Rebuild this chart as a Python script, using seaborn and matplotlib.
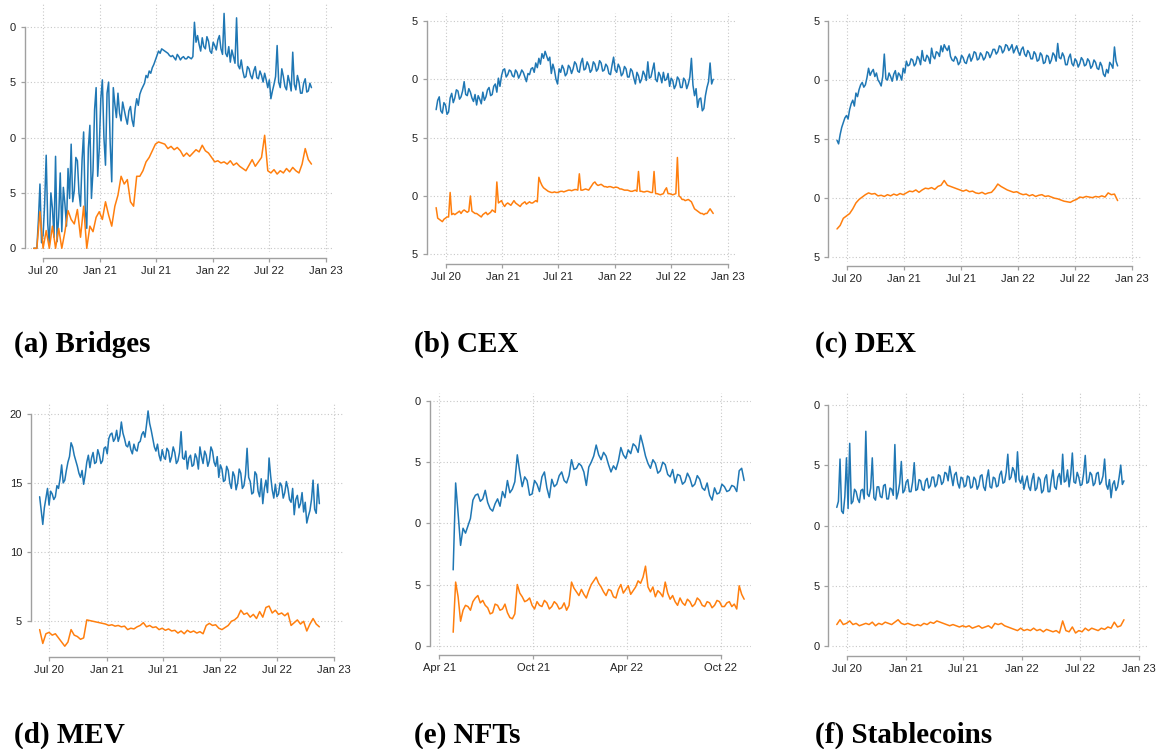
import numpy as np
import pandas as pd
import matplotlib
matplotlib.use("Agg")
import matplotlib.pyplot as plt
import matplotlib.dates as mdates
import seaborn as sns

# ---------------- data ----------------
START = "2020-05-31"
END = "2022-11-15"
NFT_START = "2021-04-28"

bridges_blue = [0, 0, 0, 2.5, 5.8, 0.5, 1.2, 4.0, 8.4, 2.2,
                0.3, 5.0, 3.6, 1.0, 8.3, 0.6, 2.8, 6.8, 1.5, 5.5,
                4.0, 2.0, 7.2, 4.5, 9.4, 4.2, 5.2, 8.2, 7.9, 5.0,
                3.8, 8.0, 10.5, 3.5, 1.8, 9.0, 11.1, 4.5, 7.0, 12.5,
                14.5, 6.5, 9.0, 13.5, 15.2, 10.0, 7.5, 14.0, 15.0, 9.5,
                6.0, 14.5, 13.0, 11.8, 14.0, 12.2, 11.5, 13.2, 12.5, 11.8,
                11.2, 12.4, 12.8, 11.6, 11.0, 12.6, 13.5, 12.9, 13.9, 14.3,
                14.6, 14.9, 15.6, 15.4, 16.0, 15.8, 16.3, 16.6, 17.0, 17.4,
                17.8, 17.6, 18.0, 17.9, 17.8, 17.7, 17.6, 17.4, 17.3, 17.4,
                17.2, 17.0, 17.5, 17.3, 17.0, 17.2, 17.3, 17.1, 17.1, 17.3,
                17.2, 17.1, 17.3, 20.4, 18.6, 19.2, 18.4, 17.8, 19.0, 18.2,
                18.0, 19.1, 18.7, 17.8, 17.6, 18.6, 18.3, 17.9, 18.8, 19.2,
                18.0, 17.5, 21.2, 17.6, 17.3, 18.2, 16.8, 17.9, 17.3, 16.7,
                20.8, 16.5, 16.2, 17.0, 16.0, 15.4, 15.5, 16.4, 16.2, 15.6,
                15.3, 16.0, 16.4, 15.4, 15.3, 16.0, 15.6, 15.0, 15.8, 15.2,
                14.5, 15.2, 13.5, 14.2, 14.8, 15.5, 18.3, 15.0, 14.5, 16.2,
                15.5, 14.6, 14.3, 15.6, 15.0, 14.2, 17.7, 14.8, 14.3, 15.6,
                15.0, 14.0, 14.0, 14.9, 15.3, 14.1, 14.2, 14.9, 14.5]
bridges_orange = [0, 0, 3.3, 0.0, 1.6, 0.0, 2.0, 0.0, 1.8, 0.0,
                  1.5, 3.4, 2.6, 2.2, 3.5, 1.0, 3.8, 0.0, 2.0, 1.5,
                  2.8, 3.3, 2.6, 4.2, 3.0, 2.0, 3.8, 4.8, 6.5, 5.8,
                  6.2, 4.2, 3.8, 6.5, 6.5, 7.0, 7.8, 8.2, 8.8, 9.4,
                  9.6, 9.5, 9.4, 9.0, 9.2, 8.9, 9.1, 8.8, 8.3, 8.6,
                  8.3, 8.6, 8.9, 8.7, 9.3, 8.8, 8.6, 8.2, 7.8, 7.9,
                  7.7, 7.8, 7.6, 7.9, 7.5, 7.7, 7.4, 7.2, 7.0, 7.5,
                  8.0, 7.4, 7.8, 8.2, 10.2, 7.0, 6.8, 7.1, 6.7, 7.0,
                  6.8, 7.2, 6.9, 7.3, 7.0, 6.8, 7.6, 9.0, 8.0, 7.6]

cex_blue = [7.4, 8.2, 8.5, 7.3, 7.1, 8.0, 7.8, 7.0, 7.2, 8.4,
            8.8, 8.0, 8.4, 9.1, 9.0, 8.3, 8.5, 9.0, 9.8, 8.7,
            8.6, 9.2, 8.9, 8.4, 8.1, 8.7, 7.8, 8.6, 8.3, 7.9,
            8.9, 8.2, 8.5, 9.1, 9.3, 8.6, 8.7, 9.4, 9.6, 8.9,
            10.1, 9.4, 10.3, 10.8, 10.9, 10.2, 10.4, 10.8, 10.7, 10.3,
            10.2, 10.8, 10.6, 10.1, 10.4, 10.8, 10.6, 10.2, 9.8, 10.5,
            10.4, 10.9, 11.0, 10.6, 11.4, 11.0, 11.8, 11.3, 12.2, 11.8,
            12.4, 12.0, 11.6, 11.9, 10.5, 11.3, 10.8, 10.0, 9.6, 10.9,
            10.6, 11.2, 10.9, 10.3, 10.5, 11.2, 11.0, 10.5, 10.9, 11.5,
            11.3, 10.7, 10.6, 11.4, 11.8, 10.8, 10.9, 11.5, 11.2, 10.6,
            10.8, 11.5, 11.3, 10.7, 10.9, 11.6, 11.4, 10.7, 10.8, 11.3,
            11.1, 10.5, 10.4, 11.2, 11.9, 10.8, 10.6, 11.3, 11.0, 10.3,
            10.5, 11.1, 10.9, 10.2, 10.2, 10.9, 10.7, 10.1, 9.6, 10.6,
            10.3, 9.7, 10.0, 10.7, 10.4, 9.9, 11.5, 10.1, 10.2, 10.8,
            11.4, 10.0, 9.8, 10.6, 10.3, 9.7, 10.6, 9.9, 10.0, 10.5,
            9.4, 10.1, 9.9, 9.2, 9.5, 10.2, 10.0, 9.3, 9.3, 10.1,
            9.9, 9.2, 9.6, 10.2, 11.8, 9.5, 8.6, 9.2, 7.6, 8.3,
            8.4, 7.3, 7.5, 8.6, 9.3, 9.8, 11.4, 9.6, 10.0]
cex_orange = [-1.0, -1.9, -2.0, -2.1, -2.2, -2.0, -1.9, -1.8, -1.8, 0.3,
              -1.6, -1.5, -1.6, -1.5, -1.4, -1.3, -1.5, -1.3, -1.2, -1.3,
              -1.4, -1.3, 0.0, -1.3, -1.4, -1.5, -1.5, -1.6, -1.7, -1.8,
              -1.6, -1.5, -1.4, -1.6, -1.5, -1.4, -1.2, -1.3, -1.4, 1.2,
              -0.6, -0.5, -0.4, -0.7, -0.9, -0.7, -0.6, -0.7, -0.8, -0.6,
              -0.4, -0.6, -0.7, -0.8, -0.9, -0.7, -0.6, -0.5, -0.7, -0.6,
              -0.5, -0.6, -0.6, -0.5, -0.4, -0.5, 1.6, 1.2, 0.9, 0.7,
              0.6, 0.5, 0.4, 0.35, 0.3, 0.3, 0.35, 0.3, 0.3, 0.35,
              0.4, 0.4, 0.35, 0.4, 0.45, 0.5, 0.5, 0.45, 0.5, 0.55,
              0.55, 0.5, 1.9, 0.5, 0.5, 0.55, 0.6, 0.55, 0.5, 0.7,
              0.9, 1.1, 1.2, 1.0, 0.9, 0.95, 1.0, 0.9, 0.8, 0.8,
              0.75, 0.8, 0.8, 0.75, 0.7, 0.75, 0.75, 0.7, 0.6, 0.6,
              0.55, 0.5, 0.5, 0.5, 0.45, 0.4, 0.4, 0.45, 0.5, 0.4,
              2.1, 0.4, 0.4, 0.35, 0.35, 0.4, 0.4, 0.35, 0.3, 0.3,
              2.1, 0.2, 0.2, 0.15, 0.1, 0.15, 0.2, 0.5, 0.7, 0.2,
              0.2, 0.15, 0.1, 0.15, 0.2, 3.3, 0.0, -0.1, -0.3, -0.3,
              -0.4, -0.35, -0.3, -0.4, -0.5, -0.8, -1.1, -1.2, -1.3, -1.4,
              -1.5, -1.5, -1.6, -1.5, -1.5, -1.3, -1.1, -1.3, -1.5]

dex_blue = [4.9, 4.6, 5.4, 6.0, 6.4, 6.8, 7.0, 6.7, 7.5, 8.0,
            8.3, 7.8, 8.9, 8.6, 9.2, 9.6, 9.8, 9.4, 9.6, 10.2,
            11.0, 10.4, 10.7, 10.9, 10.3, 10.6, 10.0, 9.8, 9.5, 10.3,
            12.2, 10.1, 10.0, 10.6, 10.3, 9.9, 10.5, 10.8, 10.0, 10.6,
            10.4, 10.0, 11.0, 10.6, 11.6, 11.2, 11.3, 11.8, 11.7, 11.2,
            11.4, 12.0, 11.8, 11.3, 12.5, 11.7, 11.6, 12.1, 11.9, 11.4,
            12.7, 12.0, 11.8, 12.4, 12.3, 12.0, 12.9, 12.4, 13.0, 12.7,
            12.5, 12.9, 12.0, 11.7, 11.6, 12.0, 11.8, 11.3, 11.5, 12.1,
            11.9, 11.5, 11.4, 11.9, 12.2, 11.6, 11.9, 12.4, 12.3, 11.7,
            11.8, 12.3, 12.1, 11.7, 11.9, 12.4, 12.3, 11.9, 12.2, 12.6,
            12.6, 12.2, 12.4, 12.9, 12.8, 12.3, 12.5, 13.0, 12.9, 12.5,
            12.7, 13.0, 12.3, 12.6, 12.9, 12.4, 12.1, 12.6, 12.8, 12.2,
            12.0, 12.5, 12.3, 11.8, 11.8, 12.4, 12.2, 11.6, 11.7, 12.3,
            12.1, 11.4, 11.5, 12.1, 12.0, 11.4, 11.7, 12.3, 12.1, 11.6,
            13.1, 11.9, 11.8, 12.3, 12.0, 11.3, 11.3, 11.9, 12.2, 11.4,
            11.2, 11.8, 11.6, 11.1, 11.4, 11.9, 11.7, 11.2, 11.3, 11.8,
            11.6, 11.0, 11.2, 11.7, 11.5, 11.0, 10.9, 11.5, 11.2, 10.5,
            10.3, 10.9, 10.6, 11.5, 11.3, 11.0, 12.8, 11.6, 11.2]
dex_orange = [-2.6, -2.3, -1.7, -1.5, -1.3, -0.9, -0.4, -0.1, 0.1, 0.3,
              0.45, 0.35, 0.4, 0.2, 0.25, 0.15, 0.3, 0.2, 0.35, 0.25,
              0.4, 0.3, 0.45, 0.6, 0.55, 0.7, 0.5, 0.7, 0.85, 0.8,
              0.9, 0.75, 1.0, 1.1, 1.5, 1.1, 1.0, 0.9, 0.8, 0.7,
              0.6, 0.7, 0.55, 0.6, 0.45, 0.4, 0.5, 0.35, 0.45, 0.5,
              0.8, 1.2, 1.0, 0.85, 0.7, 0.6, 0.5, 0.55, 0.4, 0.3,
              0.35, 0.2, 0.3, 0.15, 0.25, 0.3, 0.15, 0.2, 0.1, 0.0,
              -0.05, -0.15, -0.25, -0.3, -0.35, -0.2, -0.1, 0.1, 0.05, 0.15,
              0.1, 0.05, 0.15, 0.1, 0.2, 0.1, 0.45, 0.3, 0.35, -0.2]

mev_blue = [14.0, 13.0, 12.0, 13.2, 13.9, 14.6, 13.4, 14.4, 14.2, 13.8,
            14.0, 14.8, 14.6, 15.3, 16.3, 15.0, 15.2, 15.9, 16.5, 16.9,
            17.9, 17.6, 17.0, 16.6, 16.2, 15.7, 15.4, 15.9, 14.9, 15.6,
            16.5, 17.0, 16.1, 16.8, 17.2, 16.4, 16.5, 17.4, 17.0, 16.4,
            16.6, 17.5, 17.6, 17.1, 18.2, 18.5, 18.6, 18.0, 18.2, 18.8,
            18.0, 18.4, 19.4, 18.6, 18.2, 17.7, 17.6, 18.0, 17.4, 17.1,
            17.8, 17.4, 17.3, 17.9, 18.0, 18.5, 18.7, 18.3, 19.2, 20.2,
            19.3, 18.8, 18.2, 17.6, 17.3, 17.8, 17.0, 16.6, 17.4, 16.9,
            16.7, 17.5, 17.3, 16.5, 16.9, 17.6, 17.2, 16.4, 16.6, 17.2,
            18.7, 16.8, 16.7, 17.3, 16.0, 16.8, 17.0, 16.2, 16.3, 17.1,
            16.8, 16.0, 17.6, 16.9, 16.4, 17.3, 17.0, 16.2, 16.6, 17.6,
            17.3, 16.5, 16.2, 16.9, 15.4, 16.3, 16.0, 15.1, 15.2, 16.2,
            15.9, 15.0, 14.6, 15.8, 15.5, 14.5, 15.0, 16.0, 15.7, 14.6,
            14.8, 15.6, 17.5, 15.4, 15.1, 14.2, 14.3, 15.8, 15.6, 14.4,
            14.0, 15.3, 13.5, 14.6, 15.2, 14.3, 16.8, 15.5, 14.5, 13.9,
            14.9, 14.0, 14.2, 15.0, 14.8, 13.9, 14.3, 15.1, 14.6, 13.8,
            13.6, 14.6, 12.7, 13.8, 14.1, 13.2, 13.5, 14.3, 12.9, 13.6,
            12.1, 12.6, 13.0, 13.8, 15.2, 13.1, 12.8, 14.9, 13.5]
mev_orange = [4.4, 3.4, 4.1, 4.2, 4.0, 4.1, 3.8, 3.5, 3.2, 3.5,
              4.4, 4.0, 3.9, 3.7, 3.8, 5.1, 5.05, 5.0, 4.95, 4.9,
              4.85, 4.8, 4.7, 4.75, 4.65, 4.7, 4.6, 4.65, 4.4, 4.5,
              4.45, 4.6, 4.7, 4.9, 4.6, 4.7, 4.55, 4.6, 4.4, 4.5,
              4.35, 4.45, 4.3, 4.35, 4.15, 4.3, 4.1, 4.35, 4.2, 4.3,
              4.15, 4.25, 4.1, 4.7, 4.85, 4.7, 4.75, 4.5, 4.4, 4.55,
              4.7, 5.0, 5.1, 5.3, 5.8, 5.5, 5.6, 5.3, 5.5, 5.2,
              5.7, 5.3, 6.0, 6.1, 5.6, 5.8, 5.5, 5.6, 5.4, 5.6,
              4.7, 4.9, 5.1, 4.8, 5.0, 4.3, 4.8, 5.2, 4.8, 4.6]

nft_blue = [6.2, 13.3, 10.8, 8.2, 9.6, 9.2, 9.8, 10.4, 11.9, 12.3,
            12.4, 11.8, 12.0, 12.7, 11.7, 11.2, 11.0, 11.6, 12.0, 11.4,
            12.6, 12.1, 13.5, 12.5, 12.8, 13.4, 15.6, 14.2, 13.0, 13.8,
            13.5, 12.3, 12.4, 13.5, 13.2, 12.6, 13.8, 14.2, 12.9, 12.1,
            13.6, 13.0, 13.2, 13.9, 14.2, 13.5, 13.3, 13.9, 15.2, 14.4,
            14.5, 14.9, 14.7, 14.2, 13.1, 14.6, 15.0, 15.5, 16.4, 15.6,
            15.2, 15.8, 15.5, 14.8, 14.2, 14.7, 14.4, 15.1, 16.2, 15.6,
            15.3, 16.0, 15.7, 16.5, 16.3, 15.8, 17.2, 16.4, 15.5, 14.9,
            14.5, 15.2, 14.9, 14.1, 14.3, 15.0, 14.8, 14.0, 13.8, 14.4,
            13.3, 14.0, 13.9, 13.2, 13.4, 14.1, 13.7, 13.0, 13.2, 13.9,
            13.6, 12.9, 12.7, 13.3, 12.3, 11.9, 12.9, 12.4, 12.5, 13.2,
            13.0, 12.6, 12.7, 13.1, 13.0, 12.6, 14.3, 14.5, 13.5]
nft_orange = [1.1, 5.2, 4.0, 2.0, 2.9, 3.3, 3.2, 2.9, 3.6, 3.9,
              4.1, 3.5, 3.7, 3.3, 3.1, 2.6, 2.7, 3.4, 3.3, 2.9,
              3.0, 3.4, 2.7, 2.3, 2.2, 2.6, 5.0, 4.3, 4.0, 3.6,
              3.7, 3.9, 3.3, 3.0, 3.6, 3.3, 3.2, 3.7, 3.5, 3.0,
              3.2, 3.6, 3.4, 3.0, 3.1, 3.5, 2.9, 3.3, 5.2, 4.7,
              4.4, 4.1, 4.6, 4.2, 3.9, 4.5, 5.0, 5.3, 5.6, 5.1,
              4.8, 4.4, 4.1, 4.6, 4.5, 4.0, 3.9, 4.6, 5.0, 4.3,
              4.6, 4.9, 4.2, 4.5, 4.8, 5.3, 5.1, 5.6, 6.5, 4.8,
              4.4, 4.8, 4.0, 4.5, 4.3, 4.0, 5.2, 4.3, 3.8, 4.1,
              3.6, 3.3, 3.9, 3.5, 3.3, 3.8, 3.6, 3.2, 3.4, 3.9,
              3.7, 3.3, 3.2, 3.6, 3.5, 3.1, 3.3, 3.7, 3.6, 3.2,
              3.2, 3.5, 3.6, 3.2, 3.4, 3.0, 4.9, 4.2, 3.8]

stable_blue = [11.5, 12.0, 15.5, 11.2, 11.0, 12.4, 15.6, 11.4, 16.8, 11.8,
               12.0, 13.0, 12.8, 12.2, 11.9, 12.9, 13.0, 12.2, 17.8, 12.6,
               12.4, 13.1, 15.6, 12.3, 12.1, 13.2, 13.2, 12.4, 12.3, 13.3,
               13.4, 12.2, 12.2, 13.1, 13.0, 12.5, 16.7, 12.2, 12.7, 13.5,
               15.3, 12.7, 12.9, 13.6, 13.8, 12.8, 12.8, 13.6, 15.2, 12.9,
               13.0, 13.8, 13.7, 13.0, 12.9, 13.7, 13.9, 13.1, 13.3, 14.0,
               14.0, 13.2, 13.4, 14.2, 14.1, 13.4, 13.6, 14.4, 14.3, 13.7,
               14.9, 14.1, 13.3, 14.2, 14.4, 13.5, 13.1, 14.0, 13.9, 13.2,
               13.3, 14.1, 14.0, 13.1, 13.2, 14.0, 13.8, 13.0, 13.3, 14.1,
               14.2, 13.2, 12.9, 13.9, 14.6, 13.2, 13.1, 14.0, 13.9, 13.2,
               13.3, 14.2, 14.5, 13.5, 13.6, 14.4, 15.9, 13.8, 14.0, 14.8,
               14.5, 13.6, 16.1, 13.8, 13.5, 14.1, 13.0, 13.6, 14.1, 13.2,
               12.9, 13.8, 14.3, 12.9, 13.1, 14.0, 13.8, 12.7, 12.9, 13.9,
               14.2, 12.8, 12.8, 13.8, 14.6, 13.2, 13.0, 14.0, 14.3, 13.4,
               15.9, 13.6, 13.7, 14.6, 13.2, 14.2, 16.0, 13.6, 13.5, 14.4,
               14.0, 13.3, 13.4, 14.3, 15.8, 13.5, 13.6, 14.4, 14.2, 13.3,
               13.5, 14.3, 14.4, 13.4, 13.6, 14.1, 15.5, 13.4, 13.0, 13.8,
               12.3, 13.4, 13.7, 12.9, 13.2, 14.0, 15.0, 13.4, 13.7]
stable_orange = [1.8, 2.2, 1.8, 1.9, 2.1, 1.8, 1.9, 1.7, 1.8, 1.9,
                 1.8, 2.0, 1.7, 1.9, 1.8, 2.0, 1.9, 1.8, 2.0, 2.2,
                 1.9, 1.8, 1.9, 1.8, 1.7, 1.8, 1.7, 1.9, 1.8, 2.0,
                 1.9, 2.1, 2.0, 1.9, 1.8, 1.7, 1.8, 1.7, 1.6, 1.7,
                 1.6, 1.7, 1.5, 1.6, 1.7, 1.5, 1.6, 1.7, 1.5, 1.9,
                 1.8, 1.9, 1.7, 1.6, 1.5, 1.4, 1.3, 1.5, 1.3, 1.4,
                 1.3, 1.5, 1.3, 1.4, 1.2, 1.4, 1.3, 1.2, 1.3, 1.1,
                 2.1, 1.3, 1.2, 1.6, 1.1, 1.3, 1.2, 1.5, 1.3, 1.5,
                 1.4, 1.3, 1.5, 1.4, 1.6, 1.5, 2.0, 1.6, 1.7, 2.2]

captions = ["(a) Bridges", "(b) CEX", "(c) DEX", "(d) MEV", "(e) NFTs", "(f) Stablecoins"]

main_ticks = ["2020-07-01", "2021-01-01", "2021-07-01", "2022-01-01", "2022-07-01", "2023-01-01"]
main_tick_labels = ["Jul 20", "Jan 21", "Jul 21", "Jan 22", "Jul 22", "Jan 23"]
nft_ticks = ["2021-04-01", "2021-10-01", "2022-04-01", "2022-10-01"]
nft_tick_labels = ["Apr 21", "Oct 21", "Apr 22", "Oct 22"]

yt_a = [0, 5, 10, 15, 20]; yl_a = ["0", "5", "0", "5", "0"]
yt_bc = [-5, 0, 5, 10, 15]; yl_bc = ["5", "0", "5", "0", "5"]
yt_d = [5, 10, 15, 20]; yl_d = ["5", "10", "15", "20"]
yt_ef = [0, 5, 10, 15, 20]; yl_ef = ["0", "5", "0", "5", "0"]

BLUE = "#1f77b4"
ORANGE = "#ff7f0e"

# ---------------- figure ----------------
sns.set_style("ticks")
plt.rcParams["font.family"] = ["Liberation Sans", "DejaVu Sans"]

W, H = 1157, 749
fig = plt.figure(figsize=(W / 100, H / 100), dpi=100)


def make_df(start, end, blue, orange):
    db = list(pd.date_range(start, end, periods=len(blue)))
    do = list(pd.date_range(start, end, periods=len(orange)))
    return pd.DataFrame({
        "date": db + do,
        "value": list(blue) + list(orange),
        "series": ["blue"] * len(blue) + ["orange"] * len(orange),
    })


panels = [
    dict(df=make_df(START, END, bridges_blue, bridges_orange), box=(27, 333, 2, 252),
         xref=(("2020-07-01", 43.3), ("2023-01-01", 326.0)), yref=((20, 26.7), (0, 248.3)),
         spx=24.5, spy=258.0, xt=main_ticks, xl=main_tick_labels, yt=yt_a, yl=yl_a),
    dict(df=make_df(START, END, cex_blue, cex_orange), box=(430, 736, 13, 260),
         xref=(("2020-07-01", 445.7), ("2023-01-01", 727.7)), yref=((15, 21.0), (-5, 254.3)),
         spx=426.7, spy=264.3, xt=main_ticks, xl=main_tick_labels, yt=yt_bc, yl=yl_bc),
    dict(df=make_df(START, END, dex_blue, dex_orange), box=(832, 1141, 13, 262),
         xref=(("2020-07-01", 846.7), ("2023-01-01", 1132.3)), yref=((15, 21.0), (-5, 257.3)),
         spx=828.3, spy=266.0, xt=main_ticks, xl=main_tick_labels, yt=yt_bc, yl=yl_bc),
    dict(df=make_df(START, END, mev_blue, mev_orange), box=(34, 343, 403, 652),
         xref=(("2020-07-01", 49.3), ("2023-01-01", 334.0)), yref=((20, 413.7), (5, 621.3)),
         spx=30.7, spy=656.7, xt=main_ticks, xl=main_tick_labels, yt=yt_d, yl=yl_d),
    dict(df=make_df(NFT_START, END, nft_blue, nft_orange), box=(433, 751, 393, 650),
         xref=(("2021-04-01", 439.3), ("2022-10-01", 721.0)), yref=((20, 401.0), (0, 645.7)),
         spx=429.5, spy=655.0, xt=nft_ticks, xl=nft_tick_labels, yt=yt_ef, yl=yl_ef),
    dict(df=make_df(START, END, stable_blue, stable_orange), box=(832, 1148, 393, 651),
         xref=(("2020-07-01", 846.7), ("2023-01-01", 1139.0)), yref=((20, 404.7), (0, 646.3)),
         spx=828.3, spy=655.7, xt=main_ticks, xl=main_tick_labels, yt=yt_ef, yl=yl_ef),
]

SPINE = "#a0a0a0"

for p in panels:
    L, R, T, B = p["box"]
    ax = fig.add_axes([L / W, 1 - B / H, (R - L) / W, (B - T) / H])
    sns.lineplot(data=p["df"], x="date", y="value", hue="series",
                 palette=[BLUE, ORANGE], legend=False, linewidth=1.1, ax=ax)
    (d0, p0), (d1, p1) = p["xref"]
    n0 = mdates.date2num(pd.Timestamp(d0))
    n1 = mdates.date2num(pd.Timestamp(d1))
    sx = (n1 - n0) / (p1 - p0)
    ax.set_xlim(n0 + (L - p0) * sx, n0 + (R - p0) * sx)
    (v0, q0), (v1, q1) = p["yref"]
    sy = (v1 - v0) / (q1 - q0)
    ax.set_ylim(v0 + (B - q0) * sy, v0 + (T - q0) * sy)

    ax.set_xticks([mdates.date2num(pd.Timestamp(d)) for d in p["xt"]])
    ax.set_xticklabels(p["xl"])
    ax.set_yticks(p["yt"])
    ax.set_yticklabels(p["yl"])
    ax.set_xlabel("")
    ax.set_ylabel("")
    ax.grid(True, linestyle=(0, (1, 2)), color="#c8c8c8", linewidth=0.8)
    ax.set_axisbelow(True)
    ax.tick_params(axis="both", direction="out", length=3.2, width=0.9,
                   color=SPINE, labelsize=8, labelcolor="#222222", pad=2.5)
    ax.tick_params(axis="y", pad=3)
    sns.despine(ax=ax, offset={"left": (L - p["spx"]) * 0.72, "bottom": (p["spy"] - B) * 0.72},
                trim=True)
    for s in ("left", "bottom"):
        ax.spines[s].set_color(SPINE)
        ax.spines[s].set_linewidth(1.0)

cap_pos = [(14, 352), (414, 352), (815, 352), (14, 743), (414, 743), (815, 743)]
for (cx, cy), txt in zip(cap_pos, captions):
    fig.text(cx / W, 1 - cy / H, txt, family=["Liberation Serif", "DejaVu Serif"],
             weight="bold", fontsize=21, ha="left", va="baseline", color="black")

fig.savefig("out.png", dpi=100)
